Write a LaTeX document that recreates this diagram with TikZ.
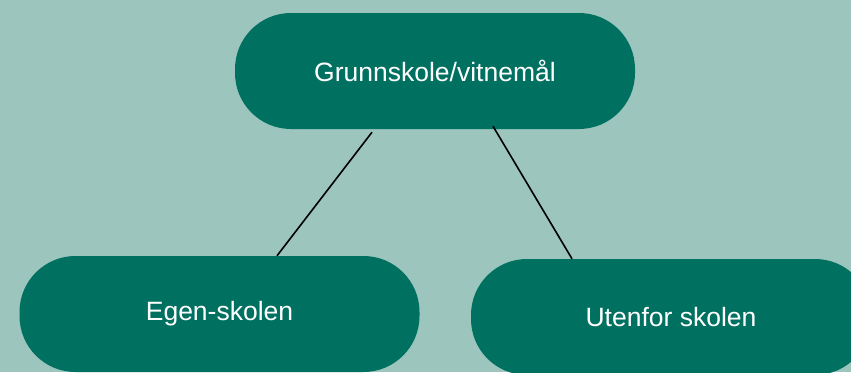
\documentclass[tikz,border=0pt]{standalone}
\usepackage{fontspec}
\setmainfont{Liberation Sans}
\usepackage{tikz}
\usetikzlibrary{calc}
\definecolor{bg_teal}{RGB}{155, 197, 189}
\definecolor{box_green}{RGB}{0, 112, 96}
\tikzstyle{pill}=[rectangle,rounded corners=56pt,fill=box_green,draw=none,
  text=white,minimum width=400pt,minimum height=116pt,inner sep=0pt,font=\fontsize{26.5}{31}\selectfont]
\tikzstyle{link}=[draw=black,line width=1.6pt]
\tikzstyle{none}=[]

\begin{document}
\begin{tikzpicture}[x=1pt,y=-1pt]
            \fill [bg_teal] (0, 0) rectangle (851, 372);
            \useasboundingbox (0, 0) rectangle (851, 372);
            \clip (0, 0) rectangle (851, 372);
            \node [style=pill] (0) at (435, 71) {Grunnskole/vitnemål};
            \node [style=pill] (1) at (219.5, 314) {Egen-skolen};
            \node [style=pill] (2) at (671, 317) {Utenfor skolen};
            \draw [style=link] ([xshift=-63pt, yshift=-3pt]0.south) to ([xshift=57.5pt]1.north);
            \draw [style=link] ([xshift=58pt, yshift=3pt]0.south) to ([xshift=-99pt]2.north);
    \end{tikzpicture}
\end{document}
